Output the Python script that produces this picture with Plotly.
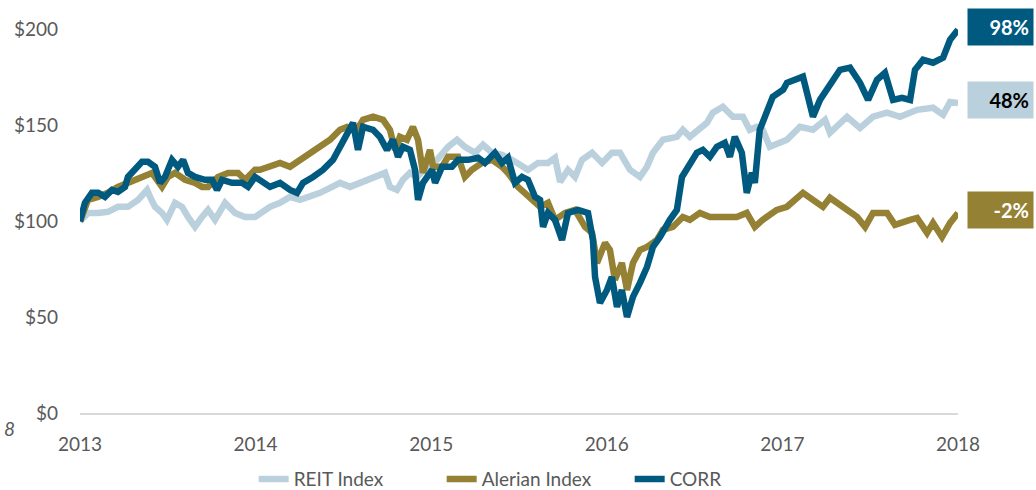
import plotly.graph_objects as go

# ---- data (time in decimal years, value of $100 invested) ----
corr_t = [2013.000, 2013.028, 2013.068, 2013.103, 2013.142, 2013.182, 2013.216, 2013.256, 2013.273, 2013.313,
          2013.353, 2013.387, 2013.427, 2013.456, 2013.484, 2013.524, 2013.558, 2013.587, 2013.615, 2013.655,
          2013.712, 2013.752, 2013.780, 2013.809, 2013.866, 2013.923, 2013.957, 2013.997, 2014.042, 2014.082,
          2014.139, 2014.196, 2014.236, 2014.270, 2014.327, 2014.384, 2014.441, 2014.481, 2014.521, 2014.555,
          2014.583, 2014.612, 2014.669, 2014.708, 2014.748, 2014.782, 2014.811, 2014.839, 2014.879, 2014.908,
          2014.925, 2014.953, 2015.005, 2015.022, 2015.062, 2015.118, 2015.153, 2015.210, 2015.267, 2015.306,
          2015.363, 2015.403, 2015.437, 2015.477, 2015.517, 2015.551, 2015.591, 2015.620, 2015.637, 2015.665,
          2015.705, 2015.745, 2015.779, 2015.836, 2015.893, 2015.921, 2015.933, 2015.961, 2016.001, 2016.029,
          2016.058, 2016.086, 2016.115, 2016.149, 2016.189, 2016.229, 2016.263, 2016.303, 2016.359, 2016.399,
          2016.428, 2016.456, 2016.513, 2016.547, 2016.587, 2016.627, 2016.672, 2016.701, 2016.729, 2016.769,
          2016.797, 2016.826, 2016.843, 2016.871, 2016.911, 2016.945, 2017.004, 2017.026, 2017.117, 2017.174,
          2017.214, 2017.283, 2017.328, 2017.385, 2017.442, 2017.488, 2017.539, 2017.584, 2017.630, 2017.681,
          2017.727, 2017.755, 2017.801, 2017.858, 2017.915, 2017.955, 2018.000]
corr_v = [100, 109.7, 114.9, 114.9, 112.8, 116.4, 115.4, 118, 123.2, 126.9,
          131.1, 131.1, 128.5, 120.1, 123.2, 132.1, 128.5, 132.1, 125.3, 123.2,
          121.7, 121.7, 116.4, 121.7, 120.1, 120.1, 118, 123.2, 120.1, 118,
          120.1, 116.4, 114.9, 120.1, 123.2, 126.9, 132.1, 138.9, 146.2, 151.4,
          137.3, 149.3, 147.8, 144.1, 137.3, 142.6, 133.7, 138.9, 137.3, 126.9,
          111.2, 120.1, 126.9, 120.1, 128.5, 128.5, 132.1, 132.1, 133.2, 130.5,
          135.8, 130.5, 133.2, 120.1, 123.2, 121.7, 112.8, 111.2, 97.1, 104.4,
          100.8, 90.3, 104.4, 106, 104.4, 90.3, 71, 57.4, 64.2, 71,
          55.4, 64.2, 50.1, 60.6, 67.9, 76.2, 86.7, 91.9, 100.8, 106,
          123.2, 126.9, 135.8, 137.3, 133.7, 138.9, 141, 133.7, 144.1, 135.8,
          114.9, 125.3, 120.1, 147.8, 156.7, 165, 168.7, 172.3, 175.5, 154.6,
          163.4, 172.3, 179.1, 180.2, 172.3, 163.4, 173.9, 177.5, 163.4, 164.5,
          163.4, 179.1, 184.3, 182.8, 185.4, 194.8, 200]

alerian_t = [2013.000, 2013.046, 2013.103, 2013.159, 2013.216, 2013.273, 2013.330, 2013.370, 2013.410, 2013.467,
             2013.501, 2013.541, 2013.598, 2013.655, 2013.695, 2013.729, 2013.786, 2013.843, 2013.900, 2013.940,
             2013.997, 2014.025, 2014.082, 2014.139, 2014.196, 2014.253, 2014.310, 2014.367, 2014.424, 2014.481,
             2014.521, 2014.577, 2014.612, 2014.669, 2014.726, 2014.765, 2014.794, 2014.822, 2014.862, 2014.896,
             2014.925, 2014.953, 2014.993, 2015.011, 2015.062, 2015.096, 2015.153, 2015.192, 2015.232, 2015.289,
             2015.346, 2015.403, 2015.437, 2015.494, 2015.534, 2015.574, 2015.620, 2015.665, 2015.705, 2015.762,
             2015.819, 2015.876, 2015.916, 2015.944, 2015.990, 2016.018, 2016.046, 2016.086, 2016.115, 2016.149,
             2016.189, 2016.229, 2016.286, 2016.320, 2016.376, 2016.433, 2016.473, 2016.530, 2016.587, 2016.661,
             2016.740, 2016.797, 2016.843, 2016.888, 2016.968, 2017.026, 2017.117, 2017.174, 2017.231, 2017.271,
             2017.345, 2017.425, 2017.471, 2017.516, 2017.596, 2017.641, 2017.727, 2017.767, 2017.824, 2017.858,
             2017.909, 2017.955, 2018.000]
alerian_v = [100, 111.2, 112.8, 114.9, 118, 120.1, 121.7, 123.2, 125.3, 118,
             123.2, 125.3, 121.7, 120.1, 118, 118, 123.2, 125.3, 125.3, 121.7,
             126.9, 126.9, 128.5, 130.5, 128.5, 132.1, 135.8, 138.9, 142.6, 147.8,
             149.3, 147.8, 153, 154.6, 153, 147.8, 137.3, 144.1, 142.6, 149.3,
             142.6, 125.3, 137.3, 128.5, 128.5, 133.7, 133.7, 123.2, 126.9, 130.5,
             132.1, 128.5, 125.3, 118, 114.9, 111.2, 107.6, 109.7, 100.8, 104.4,
             106, 97.1, 94, 78.3, 88.8, 85.1, 69.5, 78.3, 64.2, 78.3,
             85.1, 86.7, 90.3, 95.6, 97.1, 102.3, 100.8, 104.4, 102.3, 102.3,
             102.3, 104.4, 97.1, 100.8, 106, 107.6, 114.9, 111.2, 107.6, 112.3,
             107.6, 102.3, 97.1, 104.4, 104.4, 98.2, 100.8, 101.8, 94, 99.2,
             91.9, 99.2, 104.4]

reit_t = [2013.000, 2013.046, 2013.103, 2013.159, 2013.216, 2013.273, 2013.330, 2013.382, 2013.399, 2013.427,
          2013.467, 2013.495, 2013.541, 2013.581, 2013.615, 2013.655, 2013.695, 2013.729, 2013.769, 2013.826,
          2013.883, 2013.940, 2013.997, 2014.025, 2014.082, 2014.139, 2014.196, 2014.253, 2014.310, 2014.367,
          2014.424, 2014.481, 2014.538, 2014.595, 2014.651, 2014.691, 2014.737, 2014.765, 2014.805, 2014.839,
          2014.879, 2014.919, 2014.976, 2015.033, 2015.096, 2015.147, 2015.192, 2015.249, 2015.295, 2015.346,
          2015.403, 2015.460, 2015.517, 2015.551, 2015.608, 2015.665, 2015.705, 2015.734, 2015.779, 2015.819,
          2015.859, 2015.916, 2015.973, 2016.029, 2016.075, 2016.132, 2016.189, 2016.229, 2016.263, 2016.320,
          2016.399, 2016.433, 2016.473, 2016.530, 2016.570, 2016.604, 2016.661, 2016.718, 2016.775, 2016.814,
          2016.854, 2016.888, 2016.928, 2016.985, 2017.026, 2017.100, 2017.174, 2017.243, 2017.271, 2017.368,
          2017.442, 2017.516, 2017.596, 2017.670, 2017.767, 2017.858, 2017.915, 2017.955, 2018.000]
reit_v = [100, 104.4, 104.4, 105, 107.6, 107.6, 111.2, 116.4, 112.8, 107.6,
          104.4, 100.8, 109.7, 107.6, 102.3, 97.1, 102.3, 106, 100.8, 109.7,
          104.4, 102.3, 102.3, 104.4, 107.6, 109.7, 112.8, 111.2, 112.8, 114.9,
          117.5, 120.1, 118, 120.1, 121.7, 123.2, 125.3, 118, 116.4, 121.7,
          125.3, 123.2, 128.5, 132.1, 138.9, 142.6, 138.9, 135.8, 140, 135.8,
          134.7, 132.1, 128.5, 126.9, 130.5, 130.5, 133.2, 120.6, 126.9, 123.2,
          132.1, 135.8, 130.5, 135.8, 135.8, 126.9, 123.2, 128.5, 135.8, 142.6,
          144.1, 147.8, 144.1, 147.8, 151.4, 156.7, 159.8, 154.6, 154.6, 147.8,
          149.3, 147.8, 138.9, 141, 142.6, 149.3, 147.8, 153, 146.2, 154.6,
          148.8, 154.6, 156.7, 154.6, 158.2, 159.3, 155.6, 162.3, 161.8]

series_names = ["REIT Index", "Alerian Index", "CORR"]
end_labels = ["48%", "-2%", "98%"]
tick_years = [2013, 2014, 2015, 2016, 2017, 2018]
tick_vals = [0, 50, 100, 150, 200]
tick_text = ["$0", "$50", "$100", "$150", "$200"]

colors = ["#bad1dd", "#958133", "#005a7f"]
label_font_colors = ["#000000", "#ffffff", "#ffffff"]
FONT = "Lato, 'Open Sans', sans-serif"
GRAY = "#595959"

fig = go.Figure()
data = [(reit_t, reit_v), (alerian_t, alerian_v), (corr_t, corr_v)]
for (t, v), name, c in zip(data, series_names, colors):
    fig.add_trace(go.Scatter(x=t, y=v, mode="lines", name=name,
                             line=dict(color=c, width=6.5),
                             hoverinfo="x+y+name"))

for (t, v), lab, c, fc in zip(data, end_labels, colors, label_font_colors):
    fig.add_annotation(x=1.0, xref="paper", y=v[-1], yref="y",
                       xanchor="left", yanchor="middle", xshift=9, yshift=3,
                       text="<b>" + lab + "</b>", showarrow=False,
                       bgcolor=c, width=57, height=28, borderpad=4,
                       align="right",
                       font=dict(family=FONT, size=20, color=fc))

# stray italic text at the far left (part of the original slide)
fig.add_annotation(x=0, xref="paper", y=0, yref="paper", xshift=-78, yshift=-15,
                   xanchor="left", yanchor="middle", text="<i>8</i>", showarrow=False,
                   font=dict(family=FONT, size=19, color=GRAY))

fig.update_layout(
    template="none",
    width=1036, height=490,
    margin=dict(l=80, r=78, t=24, b=77, autoexpand=False),
    paper_bgcolor="white", plot_bgcolor="white",
    font=dict(family=FONT, size=19, color=GRAY),
    showlegend=True,
    legend=dict(orientation="h", x=0.519, xanchor="center",
                yref="container", y=0.022, yanchor="middle",
                font=dict(family=FONT, size=19, color=GRAY),
                entrywidth=143, tracegroupgap=0, traceorder="normal",
                bgcolor="rgba(0,0,0,0)"),
    xaxis=dict(range=[2013, 2018], tickmode="array", tickvals=tick_years,
               ticktext=[str(y) for y in tick_years], automargin=False,
               showgrid=False, zeroline=False, showline=True, linecolor="#d9d9d9", linewidth=2,
               ticks="", ticklabelstandoff=13, tickfont=dict(family=FONT, size=19, color=GRAY)),
    yaxis=dict(range=[0, 203], tickmode="array", tickvals=tick_vals, ticktext=tick_text,
               automargin=False,
               showgrid=False, zeroline=False, showline=False, ticks="",
               ticklabelstandoff=21, tickfont=dict(family=FONT, size=19, color=GRAY)),
)

fig.write_html("out.html", config={"displayModeBar": False},
               post_script="document.body.style.margin='0';")
